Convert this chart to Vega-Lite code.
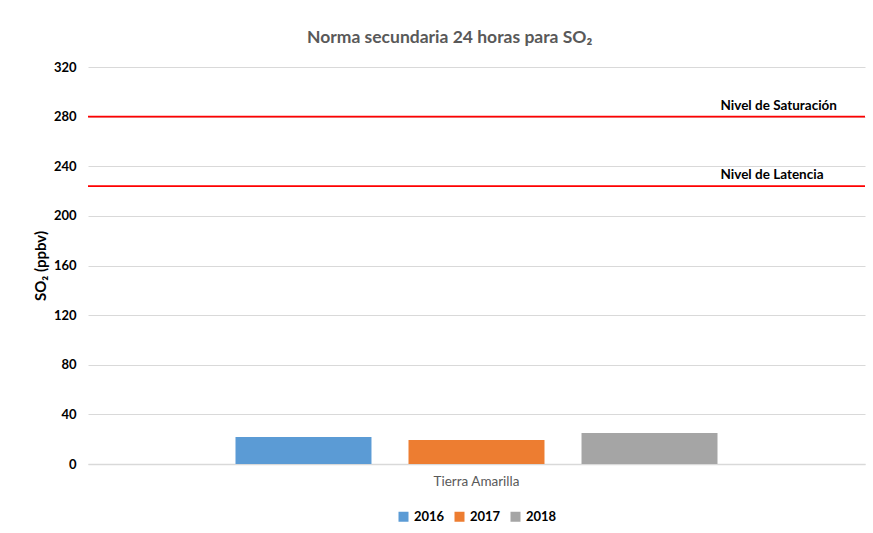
{
  "$schema": "https://vega.github.io/schema/vega-lite/v6.json",
  "autosize": "none",
  "width": 777,
  "height": 397,
  "padding": {"left": 88, "top": 67, "right": 8, "bottom": 69},
  "background": "white",
  "config": {
    "font": "Lato",
    "view": {"stroke": null},
    "legend": {"layout": {"bottom": {"anchor": "middle"}}}
  },
  "title": {
    "text": "Norma secundaria 24 horas para SO₂",
    "font": "Lato",
    "fontSize": 17.5,
    "fontWeight": "bold",
    "color": "#595959",
    "anchor": "middle",
    "frame": "bounds",
    "offset": 15
  },
  "datasets": {
    "bars": [
      {"estacion": "Tierra Amarilla", "anio": "2016", "so2": 21.8},
      {"estacion": "Tierra Amarilla", "anio": "2017", "so2": 19.3},
      {"estacion": "Tierra Amarilla", "anio": "2018", "so2": 25.0}
    ],
    "niveles": [
      {"estacion": "Tierra Amarilla", "nivel": "Nivel de Saturación", "valor": 280},
      {"estacion": "Tierra Amarilla", "nivel": "Nivel de Latencia", "valor": 224}
    ]
  },
  "layer": [
    {
      "data": {"name": "bars"},
      "mark": {"type": "bar"},
      "encoding": {
        "x": {
          "field": "estacion",
          "type": "nominal",
          "scale": {"paddingInner": 0, "paddingOuter": 0.306},
          "axis": {
            "title": null,
            "labelAngle": 0,
            "labelColor": "#595959",
            "labelFontSize": 13.5,
            "labelPadding": 10,
            "ticks": false,
            "domainColor": "#d9d9d9",
            "domainWidth": 1.5
          }
        },
        "xOffset": {
          "field": "anio",
          "type": "nominal",
          "scale": {"paddingInner": 0.214, "paddingOuter": 0}
        },
        "y": {
          "field": "so2",
          "type": "quantitative",
          "scale": {"domain": [0, 320], "nice": false},
          "axis": {
            "values": [0, 40, 80, 120, 160, 200, 240, 280, 320],
            "title": "SO₂ (ppbv)",
            "titleFontSize": 15,
            "titleFontWeight": "bold",
            "titleColor": "#000000",
            "titlePadding": 5,
            "labelFontSize": 13,
            "labelFontWeight": "bold",
            "labelColor": "#000000",
            "labelPadding": 12,
            "ticks": false,
            "domain": false,
            "gridColor": "#d9d9d9",
            "gridWidth": 1
          }
        },
        "color": {
          "field": "anio",
          "type": "nominal",
          "scale": {"range": ["#5B9BD5", "#ED7D31", "#A5A5A5"]},
          "legend": {
            "title": null,
            "orient": "bottom",
            "direction": "horizontal",
            "symbolType": "square",
            "symbolSize": 100,
            "symbolStrokeWidth": 0,
            "labelFontSize": 13,
            "labelFontWeight": "bold",
            "labelColor": "#000000",
            "labelOffset": 4,
            "columnPadding": 8,
            "offset": 22
          }
        }
      }
    },
    {
      "data": {"name": "niveles"},
      "mark": {"type": "rule", "color": "#FF0000", "strokeWidth": 1.8},
      "encoding": {
        "y": {"field": "valor", "type": "quantitative"}
      }
    },
    {
      "data": {"name": "niveles"},
      "mark": {"type": "text", "align": "left", "baseline": "bottom", "dx": 244, "dy": -4, "fontSize": 13.5, "fontWeight": "bold", "color": "#000000"},
      "encoding": {
        "x": {"field": "estacion", "type": "nominal"},
        "y": {"field": "valor", "type": "quantitative"},
        "text": {"field": "nivel"}
      }
    }
  ]
}
